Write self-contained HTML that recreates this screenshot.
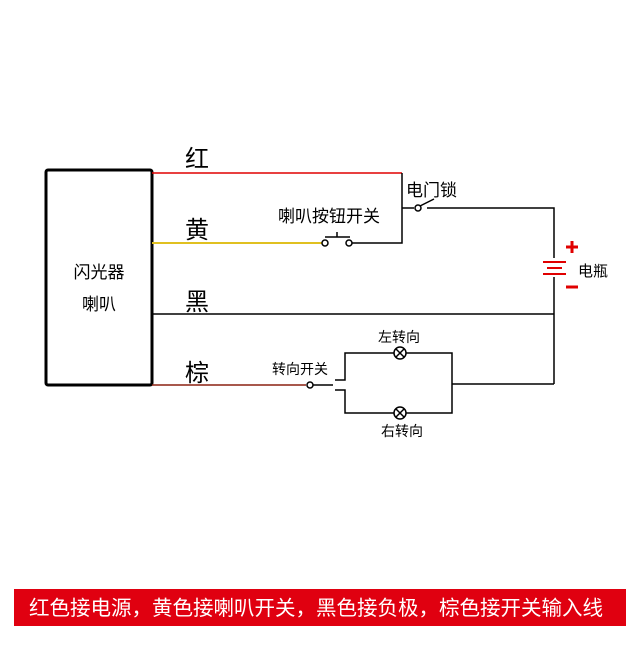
<!DOCTYPE html>
<html><head><meta charset="utf-8"><style>
body{margin:0;background:#fff;width:640px;height:640px;overflow:hidden}
svg text{font-family:"Liberation Sans","Noto Sans CJK SC",sans-serif}
</style></head><body>
<svg width="640" height="640" viewBox="0 0 640 640">
<rect width="640" height="640" fill="#fff"/>
<rect x="46" y="170" width="106" height="215" fill="none" stroke="#000" stroke-width="3" rx="2"/>
<text x="99" y="278" font-size="17" text-anchor="middle">闪光器</text>
<text x="99" y="310" font-size="17" text-anchor="middle">喇叭</text>
<text x="185" y="167" font-size="24">红</text>
<text x="185" y="238" font-size="24">黄</text>
<text x="185" y="310" font-size="24">黑</text>
<text x="185" y="381" font-size="24">棕</text>
<g fill="none" stroke-width="1.5">
<line x1="152" y1="173" x2="402" y2="173" stroke="#e00000"/>
<line x1="152" y1="243" x2="322" y2="243" stroke="#e0c020" stroke-width="2"/>
<line x1="152" y1="314" x2="554" y2="314" stroke="#000"/>
<line x1="152" y1="385" x2="306" y2="385" stroke="#8b2010"/>
<g stroke="#000">
<polyline points="352,243 402,243 402,173"/>
<line x1="402" y1="208" x2="414" y2="208"/>
<circle cx="418" cy="208" r="3"/>
<line x1="420" y1="206" x2="434" y2="199"/>
<polyline points="427,208 554,208 554,258"/>
<line x1="554" y1="277" x2="554" y2="384"/>
<circle cx="325" cy="243" r="3"/>
<circle cx="349" cy="243" r="3"/>
<line x1="325" y1="237" x2="350" y2="237"/>
<line x1="337" y1="237" x2="337" y2="232"/>
<circle cx="310" cy="385" r="3"/>
<line x1="313" y1="385" x2="333" y2="385"/>
<polyline points="335,380 345,380 345,353 452,353 452,413 345,413 345,390 335,390"/>
<line x1="452" y1="384" x2="554" y2="384"/>
<circle cx="400" cy="353" r="6" fill="#fff"/>
<path d="M396,349 L404,357 M404,349 L396,357"/>
<circle cx="400" cy="413" r="6" fill="#fff"/>
<path d="M396,409 L404,417 M404,409 L396,417"/>
</g>
<g stroke="#e00000" stroke-width="2">
<line x1="543" y1="262" x2="566" y2="262"/>
<line x1="547" y1="268" x2="562" y2="268"/>
<line x1="543" y1="274" x2="566" y2="274"/>
<line x1="566" y1="247" x2="578" y2="247" stroke-width="3"/>
<line x1="572" y1="241" x2="572" y2="253" stroke-width="3"/>
<line x1="566" y1="287" x2="578" y2="287" stroke-width="3"/>
</g>
</g>
<text x="578" y="276" font-size="15">电瓶</text>
<text x="406" y="196" font-size="17">电门锁</text>
<text x="278" y="222" font-size="17">喇叭按钮开关</text>
<text x="272" y="374" font-size="14">转向开关</text>
<text x="378" y="342" font-size="14">左转向</text>
<text x="381" y="436" font-size="14">右转向</text>
<rect x="14" y="589" width="612" height="37" fill="#e00010"/>
<text x="316" y="615" font-size="20.5" fill="#fff" text-anchor="middle">红色接电源，黄色接喇叭开关，黑色接负极，棕色接开关输入线</text>
</svg>
</body></html>
